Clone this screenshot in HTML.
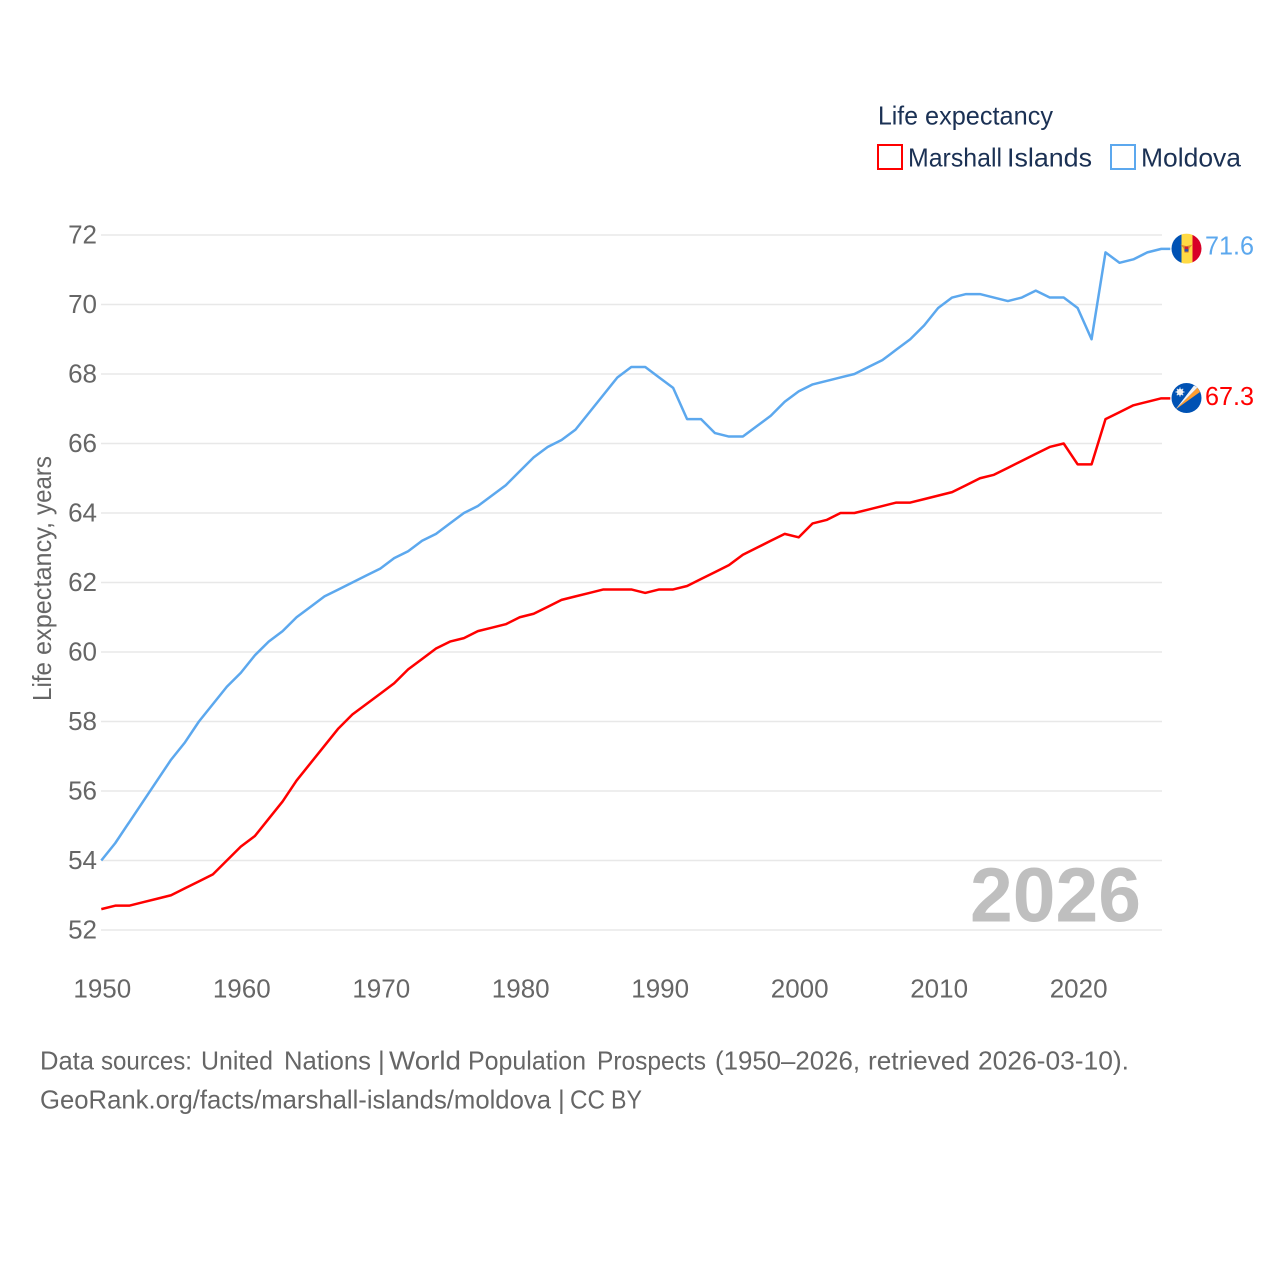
<!DOCTYPE html>
<html lang="en">
<head>
<meta charset="utf-8">
<title>Life expectancy: Marshall Islands and Moldova</title>
<style>
html,body{margin:0;padding:0;background:#fff}
svg{display:block}
text{font-family:"Liberation Sans",sans-serif}
</style>
</head>
<body>
<svg id="chart" width="1280" height="1280" viewBox="0 0 1280 1280" xmlns="http://www.w3.org/2000/svg">
  <defs>
    <clipPath id="flag-clip-md"><circle cx="0" cy="0" r="15"/></clipPath>
    <clipPath id="flag-clip-mh"><circle cx="0" cy="0" r="15"/></clipPath>
  </defs>
  <rect width="1280" height="1280" fill="#fff"/>
  <g id="grid"></g>
  <g id="yticks"></g>
  <g id="xticks"></g>
  <text transform="translate(51,701) rotate(-90)" font-size="26" fill="#666"><tspan x="0" textLength="39" lengthAdjust="spacingAndGlyphs">Life</tspan> <tspan x="46" textLength="133" lengthAdjust="spacingAndGlyphs">expectancy,</tspan> <tspan x="186" textLength="59" lengthAdjust="spacingAndGlyphs">years</tspan></text>
  <text x="970" y="921.5" font-size="77" font-weight="700" fill="#bfbfbf" textLength="171" lengthAdjust="spacingAndGlyphs">2026</text>
  <g id="series"></g>

  <g id="flag-moldova">
    <g clip-path="url(#flag-clip-md)">
      <rect x="-15" y="-15" width="10" height="30" fill="#0052b4"/>
      <rect x="-5" y="-15" width="11" height="30" fill="#ffda44"/>
      <rect x="6" y="-15" width="9" height="30" fill="#d80027"/>
      <path d="M-6 -4 L0 -2.5 L6 -4 L3 -0.5 L2 4 L-2 4 L-3 -0.5 Z" fill="#e08a2a"/>
      <rect x="-1.8" y="-2" width="3.6" height="2.5" fill="#c8203c"/>
      <rect x="-1.8" y="0.5" width="3.6" height="2.5" fill="#2f4fa8"/>
    </g>
  </g>
  <g id="flag-marshall">
    <g clip-path="url(#flag-clip-mh)">
      <rect x="-15" y="-15" width="30" height="30" fill="#0052b4"/>
      <path d="M-11 11.5 L11 -10.5 L13.5 -6 Z" fill="#ff9d2e"/>
      <path d="M-11 11.5 L7.5 -12.5 L11 -10.5 Z" fill="#f3f3f3"/>
      <circle cx="-6.5" cy="-6" r="3.2" fill="#f3f3f3"/>
      <path d="M-6.5 -10.5 L-6.5 -1.5 M-11 -6 L-2 -6 M-9.7 -9.2 L-3.3 -2.8 M-9.7 -2.8 L-3.3 -9.2" stroke="#f3f3f3" stroke-width="1"/>
    </g>
  </g>

  <text id="label-moldova" x="1205" font-size="26" fill="#5ca8ee" textLength="49" lengthAdjust="spacingAndGlyphs"></text>
  <text id="label-marshall" x="1205" font-size="26" fill="#ff0000" textLength="49" lengthAdjust="spacingAndGlyphs"></text>

  <g>
    <text y="124.5" font-size="26" fill="#1b3154"><tspan x="878" textLength="40" lengthAdjust="spacingAndGlyphs">Life</tspan> <tspan x="925" textLength="128" lengthAdjust="spacingAndGlyphs">expectancy</tspan></text>
    <g>
      <rect x="878" y="145" width="24" height="24" fill="#fff" stroke="#ff0000" stroke-width="2"/>
      <text y="166.5" font-size="26" fill="#1b3154"><tspan x="908" textLength="94" lengthAdjust="spacingAndGlyphs">Marshall</tspan> <tspan x="1007" textLength="85" lengthAdjust="spacingAndGlyphs">Islands</tspan></text>
    </g>
    <g>
      <rect x="1111" y="145" width="24" height="24" fill="#fff" stroke="#5ca8ee" stroke-width="2"/>
      <text x="1141" y="166.5" font-size="26" fill="#1b3154" textLength="100" lengthAdjust="spacingAndGlyphs">Moldova</text>
    </g>
  </g>

  <text y="1069.5" font-size="26" fill="#666"><tspan x="40" textLength="54" lengthAdjust="spacingAndGlyphs">Data</tspan> <tspan x="101" textLength="91" lengthAdjust="spacingAndGlyphs">sources:</tspan> <tspan x="201" textLength="72" lengthAdjust="spacingAndGlyphs">United</tspan> <tspan x="284" textLength="87" lengthAdjust="spacingAndGlyphs">Nations</tspan> <tspan x="378">|</tspan> <tspan x="389" textLength="72" lengthAdjust="spacingAndGlyphs">World</tspan> <tspan x="468" textLength="118" lengthAdjust="spacingAndGlyphs">Population</tspan> <tspan x="597" textLength="109" lengthAdjust="spacingAndGlyphs">Prospects</tspan> <tspan x="715" textLength="145" lengthAdjust="spacingAndGlyphs">(1950–2026,</tspan> <tspan x="868" textLength="102" lengthAdjust="spacingAndGlyphs">retrieved</tspan> <tspan x="978" textLength="151" lengthAdjust="spacingAndGlyphs">2026-03-10).</tspan></text>
  <text y="1108.5" font-size="26" fill="#666"><tspan x="40" textLength="511" lengthAdjust="spacingAndGlyphs">GeoRank.org/facts/marshall-islands/moldova</tspan> <tspan x="558">|</tspan> <tspan x="570" textLength="35" lengthAdjust="spacingAndGlyphs">CC</tspan> <tspan x="611" textLength="31" lengthAdjust="spacingAndGlyphs">BY</tspan></text>
</svg>
<script>
const startYear = 1950;
const yTickLabels = [52, 54, 56, 58, 60, 62, 64, 66, 68, 70, 72];
const xTickLabels = [1950, 1960, 1970, 1980, 1990, 2000, 2010, 2020];
const moldovaValues = [
  54.0, 54.5, 55.1, 55.7, 56.3, 56.9, 57.4, 58.0, 58.5, 59.0,
  59.4, 59.9, 60.3, 60.6, 61.0, 61.3, 61.6, 61.8, 62.0, 62.2,
  62.4, 62.7, 62.9, 63.2, 63.4, 63.7, 64.0, 64.2, 64.5, 64.8,
  65.2, 65.6, 65.9, 66.1, 66.4, 66.9, 67.4, 67.9, 68.2, 68.2,
  67.9, 67.6, 66.7, 66.7, 66.3, 66.2, 66.2, 66.5, 66.8, 67.2,
  67.5, 67.7, 67.8, 67.9, 68.0, 68.2, 68.4, 68.7, 69.0, 69.4,
  69.9, 70.2, 70.3, 70.3, 70.2, 70.1, 70.2, 70.4, 70.2, 70.2,
  69.9, 69.0, 71.5, 71.2, 71.3, 71.5, 71.6
];
const marshallValues = [
  52.6, 52.7, 52.7, 52.8, 52.9, 53.0, 53.2, 53.4, 53.6, 54.0,
  54.4, 54.7, 55.2, 55.7, 56.3, 56.8, 57.3, 57.8, 58.2, 58.5,
  58.8, 59.1, 59.5, 59.8, 60.1, 60.3, 60.4, 60.6, 60.7, 60.8,
  61.0, 61.1, 61.3, 61.5, 61.6, 61.7, 61.8, 61.8, 61.8, 61.7,
  61.8, 61.8, 61.9, 62.1, 62.3, 62.5, 62.8, 63.0, 63.2, 63.4,
  63.3, 63.7, 63.8, 64.0, 64.0, 64.1, 64.2, 64.3, 64.3, 64.4,
  64.5, 64.6, 64.8, 65.0, 65.1, 65.3, 65.5, 65.7, 65.9, 66.0,
  65.4, 65.4, 66.7, 66.9, 67.1, 67.2, 67.3
];

const NS = 'http://www.w3.org/2000/svg';
function xScale(year) { return 101.3 + (year - 1950) * (1060 / 76); }
function yScale(v) { return 930 - (v - 52) * 34.75; }
function make(tag, attrs, parent, txt) {
  const el = document.createElementNS(NS, tag);
  for (const k in attrs) el.setAttribute(k, attrs[k]);
  if (txt !== undefined) el.textContent = txt;
  parent.appendChild(el);
  return el;
}

const grid = document.getElementById('grid');
const yticks = document.getElementById('yticks');
yTickLabels.forEach(function (t) {
  const line = make('line', {x1: 101, x2: 1162, y1: yScale(t), y2: yScale(t), stroke: '#e8e8e8', 'stroke-width': 1.5}, grid);
  
  
  const label = make('text', {x: 97, y: yScale(t) + 8.5, 'text-anchor': 'end', 'font-size': 26, fill: '#666'}, yticks, String(t));
  
  
});

const xticks = document.getElementById('xticks');
xTickLabels.forEach(function (t) {
  const label = make('text', {x: xScale(t) + 1, y: 997.5, 'text-anchor': 'middle', 'font-size': 26, fill: '#666'}, xticks, String(t));
  
  
});

function pointsFor(values) {
  return values.map(function (v, i) { return xScale(startYear + i).toFixed(2) + ',' + yScale(v).toFixed(2); });
}
const seriesGroup = document.getElementById('series');

const moldovaLast = moldovaValues[moldovaValues.length - 1];
const moldovaEndX = xScale(startYear + moldovaValues.length - 1);
const moldovaLine = make('polyline', {
  points: pointsFor(moldovaValues).join(' ') + ' ' + (moldovaEndX + 9) + ',' + yScale(moldovaLast),
  fill: 'none', stroke: '#5ca8ee', 'stroke-width': 2.5, 'stroke-linejoin': 'round'
}, seriesGroup);



const marshallLast = marshallValues[marshallValues.length - 1];
const marshallEndX = xScale(startYear + marshallValues.length - 1);
const marshallLine = make('polyline', {
  points: pointsFor(marshallValues).join(' ') + ' ' + (marshallEndX + 9) + ',' + yScale(marshallLast),
  fill: 'none', stroke: '#ff0000', 'stroke-width': 2.5, 'stroke-linejoin': 'round'
}, seriesGroup);



document.getElementById('flag-moldova').setAttribute('transform', 'translate(1186.5,' + (yScale(moldovaLast) - 0.3) + ')');
document.getElementById('flag-marshall').setAttribute('transform', 'translate(1186.5,' + (yScale(marshallLast) - 0.3) + ')');

const labelMoldova = document.getElementById('label-moldova');
labelMoldova.setAttribute('y', yScale(moldovaLast) + 5.5);
labelMoldova.textContent = moldovaLast.toFixed(1);
const labelMarshall = document.getElementById('label-marshall');
labelMarshall.setAttribute('y', yScale(marshallLast) + 6.5);
labelMarshall.textContent = marshallLast.toFixed(1);
</script>
</body>
</html>
